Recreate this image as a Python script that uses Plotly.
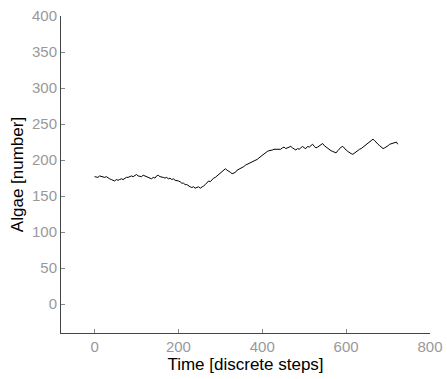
import plotly.graph_objects as go

# Time steps (discrete) and algae count
time_steps = list(range(0, 724, 4)) + [723]
algae = [177, 176, 176, 178, 177, 176, 176, 177, 175, 174, 173, 172, 171, 173, 172, 173,
         174, 173, 175, 176, 176, 177, 178, 177, 179, 180, 178, 177, 177, 179, 178, 177,
         176, 175, 174, 176, 175, 178, 179, 177, 177, 176, 175, 176, 174, 175, 173, 174,
         172, 172, 171, 170, 168, 168, 166, 166, 164, 163, 162, 163, 161, 162, 163, 161,
         162, 164, 166, 169, 171, 170, 173, 175, 176, 178, 180, 182, 185, 187, 188, 186,
         185, 183, 181, 182, 183, 186, 187, 189, 190, 191, 193, 194, 195, 196, 197, 199,
         200, 201, 203, 205, 206, 208, 210, 212, 213, 213, 214, 215, 215, 216, 216, 215,
         217, 218, 216, 217, 218, 219, 217, 216, 214, 216, 215, 217, 219, 217, 216, 219,
         218, 220, 222, 219, 217, 218, 220, 222, 223, 220, 218, 216, 215, 213, 212, 211,
         210, 213, 216, 218, 219, 216, 214, 212, 210, 209, 208, 210, 212, 214, 215, 216,
         218, 220, 222, 224, 225, 227, 229, 227, 224, 222, 220, 218, 216, 217, 218, 220,
         222, 223, 224, 225, 225, 222]

x_ticks = [0, 200, 400, 600, 800]
y_ticks = [0, 50, 100, 150, 200, 250, 300, 350, 400]

fig = go.Figure()
fig.add_trace(go.Scatter(x=time_steps, y=algae, mode="lines",
                         line=dict(color="black", width=1), showlegend=False))

tick_font = dict(family="Liberation Sans Narrow, Arial Narrow, Liberation Sans, Arial", size=15, color="#999999")
title_font = dict(family="Liberation Sans, Arial, sans-serif", size=17, color="black")

fig.update_layout(
    width=447, height=379,
    margin=dict(l=61, r=17, t=16, b=46),
    paper_bgcolor="white", plot_bgcolor="white",
    xaxis=dict(range=[-80, 800], tickvals=x_ticks, ticktext=[str(v) for v in x_ticks],
               showgrid=False, zeroline=False, showline=True, linecolor="#444", linewidth=1,
               ticks="inside", ticklen=4, tickcolor="#888", tickfont=tick_font,
               title=dict(text="Time [discrete steps]", font=title_font, standoff=3),
               automargin=False),
    yaxis=dict(range=[-40, 400], tickvals=y_ticks, ticktext=[str(v) for v in y_ticks],
               showgrid=False, zeroline=False, showline=True, linecolor="#444", linewidth=1,
               ticks="inside", ticklen=4, tickcolor="#888", tickfont=tick_font,
               title=dict(text="Algae [number]", font=title_font, standoff=4),
               automargin=False),
)

fig.write_html("out.html")
